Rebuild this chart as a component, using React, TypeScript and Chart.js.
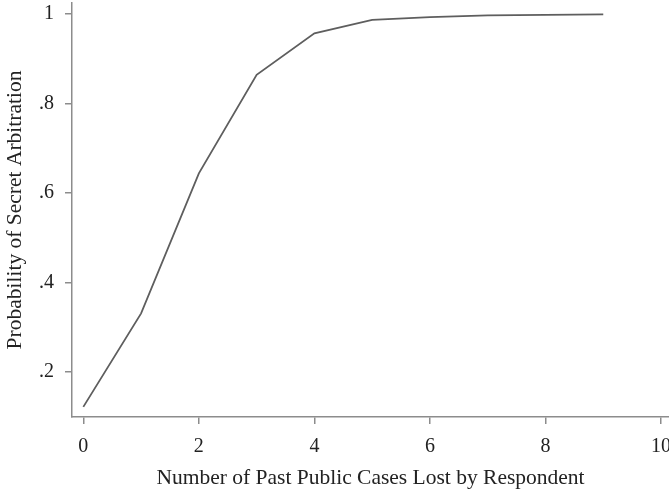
import React, { useEffect, useRef } from "react";
import { Chart, registerables } from "chart.js";

Chart.register(...registerables);

const casesLost = [0, 1, 2, 3, 4, 5, 6, 7, 8, 9];
const probability = [0.122, 0.331, 0.644, 0.864, 0.957, 0.987, 0.993, 0.997, 0.998, 0.999];
const xTickValues = [0, 2, 4, 6, 8, 10];
const yTickValues = [0.2, 0.4, 0.6, 0.8, 1];
const yTickLabels = [".2", ".4", ".6", ".8", "1"];

const FONT = "'Liberation Serif', 'Times New Roman', serif";

export default function App() {
  const ref = useRef<HTMLCanvasElement | null>(null);

  useEffect(() => {
    if (!ref.current) return;
    const chart = new Chart(ref.current, {
      type: "line",
      data: {
        datasets: [
          {
            data: casesLost.map((x, i) => ({ x, y: probability[i] })),
            borderColor: "#5e5e5e",
            borderWidth: 1.8,
            pointRadius: 0,
            tension: 0,
            fill: false,
          },
        ],
      },
      options: {
        animation: false,
        responsive: false,
        layout: { padding: { top: 3, left: 0, right: 0, bottom: 0 } },
        plugins: { legend: { display: false }, tooltip: { enabled: false } },
        scales: {
          x: {
            type: "linear",
            min: -0.196,
            max: 10.138,
            afterBuildTicks: (s: any) => {
              s.ticks = xTickValues.map((v) => ({ value: v }));
            },
            afterFit: (s: any) => {
              s.height = 78;
              s.paddingLeft = 0;
              s.paddingRight = 0;
            },
            grid: { drawOnChartArea: false, drawTicks: true, tickLength: 7, color: "#8c8c8c", lineWidth: 1.5 },
            border: { display: true, color: "#8c8c8c", width: 1.5 },
            ticks: {
              autoSkip: false,
              maxRotation: 0,
              padding: 11,
              color: "#222",
              font: { family: FONT, size: 20 },
              callback: (v: any) => String(v),
            },
            title: {
              display: true,
              text: "Number of Past Public Cases Lost by Respondent",
              color: "#222",
              font: { family: FONT, size: 21.5 },
              padding: { top: 0, bottom: 4 },
            },
          },
          y: {
            type: "linear",
            min: 0.0994,
            max: 1.0246,
            afterBuildTicks: (s: any) => {
              s.ticks = yTickValues.map((v) => ({ value: v }));
            },
            afterFit: (s: any) => {
              s.width = 72;
              s.paddingTop = 0;
              s.paddingBottom = 0;
            },
            grid: { drawOnChartArea: false, drawTicks: true, tickLength: 7, color: "#8c8c8c", lineWidth: 1.5 },
            border: { display: true, color: "#8c8c8c", width: 1.5 },
            ticks: {
              autoSkip: false,
              padding: 11,
              color: "#222",
              font: { family: FONT, size: 20 },
              callback: (v: any) => {
                const i = yTickValues.findIndex((t) => Math.abs(t - Number(v)) < 1e-9);
                return i >= 0 ? yTickLabels[i] : "";
              },
            },
            title: {
              display: true,
              text: "Probability of Secret Arbitration",
              color: "#222",
              font: { family: FONT, size: 21.5 },
              padding: { top: 2, bottom: 0 },
            },
          },
        },
      },
    });
    return () => chart.destroy();
  }, []);

  return (
    <div style={{ position: "fixed", left: 0, top: 0, width: 669, height: 495, background: "#fff" }}>
      <canvas ref={ref} width={669} height={495} />
    </div>
  );
}
